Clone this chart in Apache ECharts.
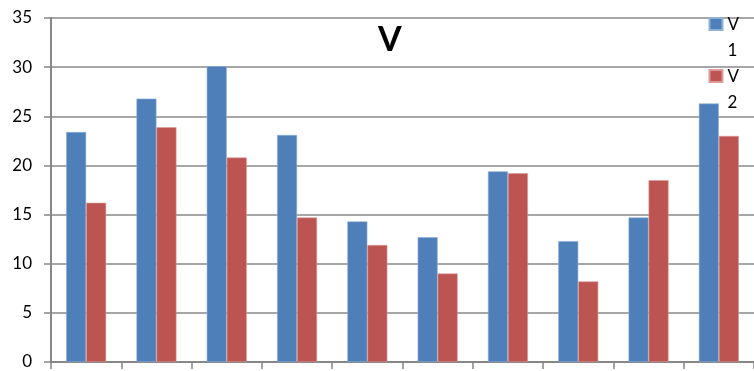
<!DOCTYPE html>
<html>
<head>
<meta charset="utf-8">
<script src="https://cdn.jsdelivr.net/npm/echarts@6/dist/echarts.min.js"></script>
<style>html,body{margin:0;padding:0;background:#fff}#c{width:754px;height:371px}</style>
</head>
<body>
<div id="c"></div>
<script>
const categories = ['1','2','3','4','5','6','7','8','9','10'];
const seriesNames = ['V 1', 'V 2'];
const v1 = [23.4, 26.8, 30.1, 23.1, 14.3, 12.7, 19.4, 12.3, 14.7, 26.3];
const v2 = [16.2, 23.9, 20.8, 14.7, 11.9, 9.0, 19.2, 8.2, 18.5, 23.0];
const yTicks = [0, 5, 10, 15, 20, 25, 30, 35];

const chart = echarts.init(document.getElementById('c'), null, {renderer: 'canvas'});
const font = 'Lato, "Open Sans", sans-serif';
chart.setOption({
  animation: false,
  textStyle: {fontFamily: font},
  title: {
    text: 'V', left: 378, top: 23, padding: 0,
    textStyle: {fontSize: 34, fontWeight: 'bold', color: '#000', fontFamily: font}
  },
  legend: {
    orient: 'vertical', right: 15, top: 11, padding: 0,
    itemWidth: 13, itemHeight: 52, itemGap: -2,
    icon: 'path://M0,0M0,52M0,6h13v12h-13z',
    formatter: n => n.replace(' ', '\n'),
    textStyle: {fontSize: 17, lineHeight: 26, color: '#000', fontFamily: font}
  },
  grid: {left: 51, top: 18, width: 707, bottom: 9, containLabel: false},
  xAxis: {
    type: 'category', data: categories,
    axisLine: {lineStyle: {color: '#878787', width: 2}},
    axisTick: {show: true, length: 7, lineStyle: {color: '#878787', width: 1.5}},
    axisLabel: {show: false}
  },
  yAxis: {
    type: 'value', min: yTicks[0], max: yTicks[yTicks.length - 1], interval: 5,
    axisLine: {show: true, lineStyle: {color: '#878787', width: 2}},
    axisTick: {show: true, length: 7, lineStyle: {color: '#878787', width: 1.5}},
    axisLabel: {fontSize: 17, color: '#000', margin: 19, fontFamily: font},
    splitLine: {lineStyle: {color: '#8a8a8a', width: 1.5}}
  },
  series: [
    {name: seriesNames[0], type: 'bar', data: v1, barWidth: 20, barGap: '0%',
     itemStyle: {color: '#4F7FB8', borderColor: '#8FB0D8', borderWidth: 0.6}},
    {name: seriesNames[1], type: 'bar', data: v2, barWidth: 20,
     itemStyle: {color: '#BC5451', borderColor: '#DC9A98', borderWidth: 0.6}}
  ]
});
</script>
</body>
</html>
